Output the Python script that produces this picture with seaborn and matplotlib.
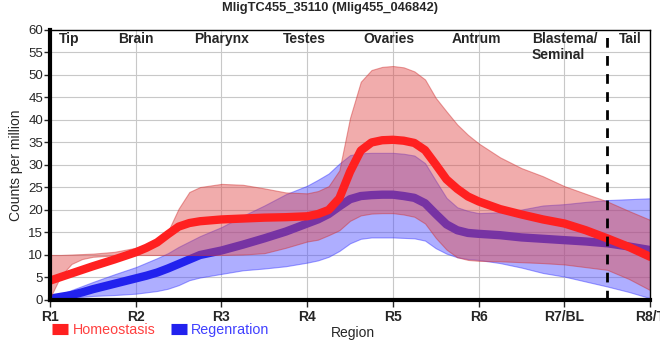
import numpy as np
import pandas as pd
import matplotlib
matplotlib.use("Agg")
import matplotlib.pyplot as plt
import seaborn as sns

# values (R1=0 ... R8/T=7), denser where the curves bend
pos = [0, 0.125, 0.25, 0.375, 0.5, 0.75, 1, 1.125, 1.25, 1.375, 1.5, 1.625, 1.75, 2,
       2.25, 2.5, 2.75, 3, 3.125, 3.25, 3.375, 3.5, 3.625, 3.75, 3.875, 4, 4.125, 4.25,
       4.375, 4.5, 4.625, 4.75, 4.875, 5, 5.25, 5.5, 5.75, 6, 6.25, 6.5, 6.75, 7]

homeo_mean = [4.3, 5.1, 5.9, 6.7, 7.5, 9.0, 10.6, 11.6, 12.8, 14.6, 16.3, 17.1, 17.5, 17.9,
              18.1, 18.3, 18.4, 18.6, 19.1, 20.0, 22.6, 28.5, 33.2, 35.0, 35.5, 35.6, 35.4, 34.9,
              33.3, 30.1, 26.8, 24.7, 23.0, 21.9, 20.2, 19.0, 17.9, 17.0, 15.5, 13.7, 11.8, 9.6]
homeo_upper = [10.0, 10.0, 10.1, 10.2, 10.3, 10.7, 11.6, 12.3, 13.4, 15.2, 20.3, 24.0, 25.1, 25.8,
               25.6, 24.8, 23.9, 23.7, 24.2, 25.3, 28.8, 40.5, 48.5, 51.1, 51.8, 52.0, 51.7, 50.8,
               49.0, 44.9, 41.9, 39.0, 36.7, 34.8, 31.7, 29.3, 27.5, 25.3, 23.6, 21.9, 19.8, 17.8]
homeo_lower = [0.5, 5.3, 8.0, 9.1, 9.6, 9.9, 10.0, 10.0, 10.0, 10.0, 10.0, 10.0, 10.0, 10.0,
               10.1, 10.4, 11.6, 13.0, 13.4, 14.4, 15.5, 17.6, 18.8, 19.2, 19.3, 19.3, 19.0, 18.5,
               17.0, 13.8, 11.2, 9.5, 8.9, 8.7, 8.6, 8.4, 8.2, 7.9, 7.3, 6.7, 4.7, 2.2]

regen_mean = [0.3, 0.7, 1.1, 1.7, 2.4, 3.6, 4.8, 5.4, 6.1, 7.0, 8.0, 9.0, 10.0, 11.0,
              12.3, 13.7, 15.2, 17.0, 17.9, 19.1, 20.8, 22.4, 23.1, 23.3, 23.4, 23.4, 23.1, 22.7,
              21.5, 19.1, 16.8, 15.5, 14.9, 14.7, 14.4, 13.9, 13.6, 13.3, 13.0, 12.6, 11.9, 11.1]
regen_upper = [0.5, 1.3, 2.2, 3.1, 4.0, 5.7, 7.3, 8.3, 9.3, 10.4, 11.8, 13.0, 14.2, 16.2,
               18.7, 21.0, 23.5, 25.4, 26.7, 28.1, 30.3, 32.2, 32.6, 32.7, 32.7, 32.7, 32.5, 32.1,
               30.4, 26.5, 22.7, 20.6, 19.8, 19.3, 19.5, 20.1, 21.0, 21.3, 21.8, 22.2, 22.4, 22.6]
regen_lower = [0.0, 0.3, 0.5, 0.7, 0.9, 1.1, 1.4, 1.7, 2.0, 2.5, 3.3, 4.4, 5.0, 5.8,
               6.6, 7.0, 7.5, 8.3, 8.8, 9.6, 10.9, 12.6, 13.6, 13.9, 13.9, 13.9, 13.8, 13.7,
               13.2, 11.5, 10.3, 9.5, 9.1, 8.9, 8.2, 7.2, 6.0, 5.2, 4.1, 3.0, 1.8, 0.4]

region_ticks = ["R1", "R2", "R3", "R4", "R5", "R6", "R7/BL", "R8/T"]
tissues = ["Tip", "Brain", "Pharynx", "Testes", "Ovaries", "Antrum", "Blastema/\nSeminal", "Tail"]
tissue_pos = [0.22, 1, 2, 2.97, 3.95, 4.97, 6, 6.77]

sns.set_style("whitegrid", {"grid.color": "#c8c8c8", "axes.edgecolor": "black"})
plt.rcParams["font.family"] = ["Liberation Sans", "DejaVu Sans"]

df = pd.DataFrame({
    "pos": pos * 2,
    "value": homeo_mean + regen_mean,
    "cond": ["Homeostasis"] * len(pos) + ["Regenration"] * len(pos),
})

fig, ax = plt.subplots(figsize=(6.6, 3.6), dpi=100)
fig.subplots_adjust(left=0.0758, right=0.985, bottom=0.1667, top=0.9167)

red = "#ff2020"
blue = "#2222ee"

# blue band + line first, red band drawn over them, red line on top
ax.fill_between(pos, regen_lower, regen_upper, color="#4d4dff", alpha=0.45,
                edgecolor="#3030ff", linewidth=0.8, zorder=2)
sns.lineplot(data=df[df.cond == "Regenration"], x="pos", y="value", color=blue,
             linewidth=6, ax=ax, zorder=3, label="Regenration", legend=False,
             solid_joinstyle="round")
ax.fill_between(pos, homeo_lower, homeo_upper, color="#e04848", alpha=0.45,
                edgecolor="#d03030", linewidth=0.8, zorder=4)
sns.lineplot(data=df[df.cond == "Homeostasis"], x="pos", y="value", color=red,
             linewidth=6, ax=ax, zorder=5, label="Homeostasis", legend=False,
             solid_joinstyle="round")

ax.axvline(6.5, color="black", linestyle=(0, (3.5, 3)), linewidth=2, zorder=6)

ax.set_xlim(0, 7)
ax.set_ylim(0, 60)
ax.set_xticks(range(len(region_ticks)))
ax.set_xticklabels(region_ticks, fontsize=10, fontweight="bold")
ax.set_yticks(np.arange(0, 61, 5))
ax.tick_params(axis="y", labelsize=9.5, length=4, width=1, left=True, pad=1)
ax.tick_params(axis="x", length=5, width=1, bottom=True, pad=2)

for s in ["top", "right"]:
    ax.spines[s].set_linewidth(1)
ax.spines["left"].set_linewidth(3)
ax.spines["bottom"].set_linewidth(3)
for s in ax.spines.values():
    s.set_zorder(7)

for t, p in zip(tissues, tissue_pos):
    ax.text(p, 59.5, t, ha="center", va="top", fontsize=10, fontweight="bold",
            multialignment="left", zorder=8)

fig.suptitle("MligTC455_35110 (Mlig455_046842)", fontsize=9.3, fontweight="bold",
             x=0.5, y=0.978, va="center")
ax.set_ylabel("Counts per million", fontsize=10)
ax.set_xlabel("Region", fontsize=10)
ax.xaxis.set_label_coords(0.505, -0.097)

handles, labels = ax.get_legend_handles_labels()
order = [labels.index("Homeostasis"), labels.index("Regenration")]
leg = fig.legend([handles[i] for i in order], [labels[i] for i in order],
                 loc="center left", bbox_to_anchor=(0.06, 0.083), ncol=2, frameon=False,
                 fontsize=10.3, handlelength=1.1, handletextpad=0.3, columnspacing=1.1,
                 labelcolor=["#ff4040", "#4040ff"])
for ln in leg.get_lines():
    ln.set_solid_capstyle("butt")
    ln.set_linewidth(8)

fig.savefig("out.png", dpi=100)
